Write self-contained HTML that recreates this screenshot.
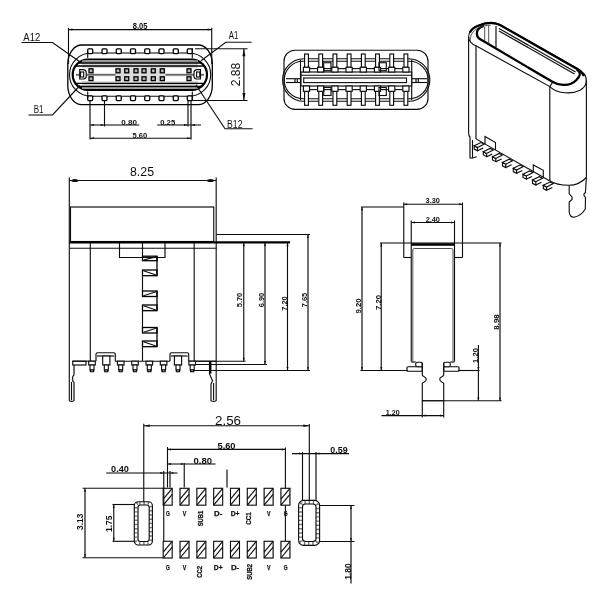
<!DOCTYPE html>
<html><head><meta charset="utf-8"><title>USB Type-C connector drawing</title>
<style>
html,body{margin:0;padding:0;background:#fff;}
body{width:600px;height:600px;overflow:hidden;font-family:"Liberation Sans",sans-serif;}
svg{display:block;}
.l{stroke:#0a0a0a;stroke-width:1.12;fill:none;}
.m{stroke:#000;stroke-width:1.3;}
.fd{fill:#8e8e8e;}
.s{font-weight:bold;}
.s2{stroke:#111;stroke-width:0.35;}
.g{stroke:#3a3a3a;stroke-width:0.9;}
.k{stroke:#000;stroke-width:2.2;fill:none;}
.k2{stroke:#000;stroke-width:2.3;fill:none;}
.nf{stroke:none;}
.w{fill:#fff;}
.fg{fill:#d6d6d6;}
.fg2{fill:#b5b5b5;}
.fg3{fill:#dcdcdc;}
.a{fill:#111;stroke:none;}
.t{font-family:"Liberation Sans",sans-serif;fill:#111;stroke:none;}
.b{font-weight:bold;stroke:#111;stroke-width:0.25;}
.hz{fill:none;stroke:#777;stroke-width:3;stroke-dasharray:1.4 2.8;}
.hz2{fill:none;stroke:#777;stroke-width:3.4;stroke-dasharray:1.4 2.8;}
</style></head><body>
<svg width="600" height="600" viewBox="0 0 600 600">
<defs><filter id="bl" x="0" y="0" width="600" height="600" filterUnits="userSpaceOnUse"><feGaussianBlur stdDeviation="0.38"/></filter></defs>
<rect x="0" y="0" width="600" height="600" fill="#fff"/>
<g filter="url(#bl)">
<g id="v1">
<path class="l m" d="M81.8 45 H198.3 A14 19 0 0 1 212.3 64 V85.6 A14 19 0 0 1 198.3 104.6 H81.8 A14 19 0 0 1 67.8 85.6 V64 A14 19 0 0 1 81.8 45 Z"/>
<rect class="l" x="69.5" y="53" width="141.2" height="43.3" rx="21.65" ry="21.65"/>
<rect class="k w" x="72.7" y="59.5" width="134.3" height="30.3" rx="15.15" ry="15.15"/>
<rect class="nf fg" x="82" y="60.5" width="116" height="7.8"/>
<rect class="nf fg" x="82" y="81" width="116" height="7.8"/>
<rect class="nf fd" x="82" y="60.7" width="116" height="1.8"/>
<rect class="nf fd" x="82" y="86.9" width="116" height="1.8"/>
<rect class="nf w" x="88" y="68.2" width="104" height="13"/>
<line class="l m" x1="78.5" y1="63" x2="201.2" y2="63"/>
<line class="l m" x1="76" y1="66" x2="203.7" y2="66"/>
<line class="l m" x1="76" y1="83.3" x2="203.7" y2="83.3"/>
<line class="l m" x1="78.5" y1="86.3" x2="201.2" y2="86.3"/>
<rect class="nf fg2" x="76" y="73.6" width="128" height="2.6"/>
<line class="l g" x1="76" y1="74.8" x2="204" y2="74.8"/>
<rect class="nf fg3" x="115.5" y="68.2" width="50" height="13"/>
<rect class="l m fg2" x="89" y="68.8" width="4" height="4"/>
<rect class="l m fg2" x="89" y="76.8" width="4" height="3.8"/>
<rect class="l m fg2" x="116" y="68.8" width="4" height="4"/>
<rect class="l m fg2" x="116" y="76.8" width="4" height="3.8"/>
<rect class="l m fg2" x="124.7" y="68.8" width="4" height="4"/>
<rect class="l m fg2" x="124.7" y="76.8" width="4" height="3.8"/>
<rect class="l m fg2" x="134" y="68.8" width="4" height="4"/>
<rect class="l m fg2" x="134" y="76.8" width="4" height="3.8"/>
<rect class="l m fg2" x="142" y="68.8" width="4" height="4"/>
<rect class="l m fg2" x="142" y="76.8" width="4" height="3.8"/>
<rect class="l m fg2" x="151.3" y="68.8" width="4" height="4"/>
<rect class="l m fg2" x="151.3" y="76.8" width="4" height="3.8"/>
<rect class="l m fg2" x="160.3" y="68.8" width="4" height="4"/>
<rect class="l m fg2" x="160.3" y="76.8" width="4" height="3.8"/>
<rect class="l m fg2" x="187" y="68.8" width="4" height="4"/>
<rect class="l m fg2" x="187" y="76.8" width="4" height="3.8"/>
<path class="l w" d="M79.7 69.6 H83.5 Q86.2 70 86.2 72.5 V76.5 Q86.2 78.6 83.5 79 H79.7 Z"/>
<rect class="l" x="80.5" y="72" width="3.2" height="5"/>
<path class="l w" d="M200.5 69.6 H196.7 Q194 70 194 72.5 V76.5 Q194 78.6 196.7 79 H200.5 Z"/>
<rect class="l" x="196.6" y="72" width="3.2" height="5"/>
<rect class="l m w" x="87.7" y="48.8" width="5" height="4.8" rx="1" ry="1"/>
<rect class="l m w" x="87.7" y="95.8" width="5" height="4.8" rx="1" ry="1"/>
<rect class="l m w" x="102" y="48.8" width="5" height="4.8" rx="1" ry="1"/>
<rect class="l m w" x="102" y="95.8" width="5" height="4.8" rx="1" ry="1"/>
<rect class="l m w" x="116.25" y="48.8" width="5" height="4.8" rx="1" ry="1"/>
<rect class="l m w" x="116.25" y="95.8" width="5" height="4.8" rx="1" ry="1"/>
<rect class="l m w" x="130.5" y="48.8" width="5" height="4.8" rx="1" ry="1"/>
<rect class="l m w" x="130.5" y="95.8" width="5" height="4.8" rx="1" ry="1"/>
<rect class="l m w" x="144.75" y="48.8" width="5" height="4.8" rx="1" ry="1"/>
<rect class="l m w" x="144.75" y="95.8" width="5" height="4.8" rx="1" ry="1"/>
<rect class="l m w" x="159" y="48.8" width="5" height="4.8" rx="1" ry="1"/>
<rect class="l m w" x="159" y="95.8" width="5" height="4.8" rx="1" ry="1"/>
<rect class="l m w" x="173.25" y="48.8" width="5" height="4.8" rx="1" ry="1"/>
<rect class="l m w" x="173.25" y="95.8" width="5" height="4.8" rx="1" ry="1"/>
<rect class="l m w" x="187.3" y="48.8" width="5" height="4.8" rx="1" ry="1"/>
<rect class="l m w" x="187.3" y="95.8" width="5" height="4.8" rx="1" ry="1"/>
<line class="l" x1="87.7" y1="51" x2="87.7" y2="58"/>
<line class="l" x1="192.3" y1="48" x2="192.3" y2="58.3"/>
<line class="l" x1="87.7" y1="91.5" x2="87.7" y2="98"/>
<line class="l" x1="192.3" y1="91.5" x2="192.3" y2="101"/>
<line class="l" x1="68.5" y1="29.6" x2="211.7" y2="29.6"/>
<polygon class="a" points="68.5,29.6 72.5,28.6 72.5,30.6"/>
<polygon class="a" points="211.7,29.6 207.7,28.6 207.7,30.6"/>
<line class="l" x1="68.5" y1="27.8" x2="68.5" y2="64"/>
<line class="l" x1="211.7" y1="27.8" x2="211.7" y2="64"/>
<text class="t s" x="140.1" y="29.3" font-size="8.4" text-anchor="middle" textLength="14.7" lengthAdjust="spacingAndGlyphs">8.05</text>
<line class="l" x1="195" y1="48.8" x2="247.5" y2="48.8"/>
<line class="l" x1="192" y1="100.5" x2="247.5" y2="100.5"/>
<line class="l" x1="243.9" y1="48.8" x2="243.9" y2="100.5"/>
<polygon class="a" points="243.9,48.8 242.4,56.3 245.4,56.3"/>
<polygon class="a" points="243.9,100.5 242.4,93 245.4,93"/>
<text class="t s2" x="239.6" y="74.5" font-size="12" text-anchor="middle" textLength="23.5" lengthAdjust="spacingAndGlyphs" transform="rotate(-90 239.6 74.5)">2.88</text>
<path class="l" d="M21.5 42.5 H52.5 L81.5 63"/>
<text class="t s2" x="23.3" y="41.1" font-size="11" text-anchor="start" textLength="17" lengthAdjust="spacingAndGlyphs">A12</text>
<path class="l" d="M28.5 115 H52.5 L80 85.5"/>
<text class="t s2" x="33.7" y="113" font-size="11" text-anchor="start" textLength="9.8" lengthAdjust="spacingAndGlyphs">B1</text>
<path class="l" d="M251.7 42.2 H225.8 L201 60.7"/>
<text class="t s2" x="228.7" y="38.9" font-size="10.2" text-anchor="start" textLength="9.6" lengthAdjust="spacingAndGlyphs">A1</text>
<path class="l" d="M252.5 128.8 H225 L196 85"/>
<text class="t s2" x="227" y="127.7" font-size="10.8" text-anchor="start" textLength="15.5" lengthAdjust="spacingAndGlyphs">B12</text>
<line class="l" x1="90" y1="101" x2="90" y2="139.5"/>
<line class="l" x1="104.5" y1="101" x2="104.5" y2="126.5"/>
<line class="l" x1="188" y1="101" x2="188" y2="126.5"/>
<line class="l" x1="191" y1="101" x2="191" y2="139.5"/>
<line class="l" x1="90" y1="125" x2="139.3" y2="125"/>
<polygon class="a" points="90,125 94,124.1 94,125.9"/>
<polygon class="a" points="104.5,125 100.5,124.1 100.5,125.9"/>
<text class="t s" x="129.1" y="124.6" font-size="8" text-anchor="middle" textLength="15.7" lengthAdjust="spacingAndGlyphs">0.80</text>
<line class="l" x1="157.2" y1="125" x2="201" y2="125"/>
<polygon class="a" points="188,125 184,124.1 184,125.9"/>
<polygon class="a" points="191,125 195,124.1 195,125.9"/>
<text class="t s" x="167.7" y="124.6" font-size="8" text-anchor="middle" textLength="15" lengthAdjust="spacingAndGlyphs">0.25</text>
<line class="l" x1="90" y1="138.2" x2="191" y2="138.2"/>
<polygon class="a" points="90,138.2 94,137.3 94,139.1"/>
<polygon class="a" points="191,138.2 187,137.3 187,139.1"/>
<text class="t s" x="139.8" y="137.7" font-size="8" text-anchor="middle" textLength="14.7" lengthAdjust="spacingAndGlyphs">5.60</text>
</g>
<g id="v2">
<rect class="l" x="284" y="50.2" width="144" height="59.2" rx="11" ry="11"/>
<rect class="l" x="282.6" y="58.7" width="147.2" height="42.6" rx="21.3" ry="21.3"/>
<rect class="l" x="284.2" y="61.3" width="144" height="37.4" rx="18.7" ry="18.7"/>
<line class="l" x1="300.5" y1="60" x2="300.5" y2="100"/>
<line class="l" x1="411.7" y1="60" x2="411.7" y2="100"/>
<rect class="l w" x="301" y="72" width="110.7" height="14"/>
<rect class="l" x="303.7" y="78" width="102.8" height="4.6"/>
<line class="l" x1="301" y1="75.3" x2="412" y2="75.3"/>
<line class="l" x1="286" y1="78.7" x2="301" y2="78.7"/>
<line class="l" x1="286" y1="82.5" x2="301" y2="82.5"/>
<line class="l" x1="295" y1="78.7" x2="295" y2="82.5"/>
<line class="l" x1="297.3" y1="78.7" x2="297.3" y2="82.5"/>
<line class="l" x1="412" y1="78.7" x2="427" y2="78.7"/>
<line class="l" x1="412" y1="82.5" x2="427" y2="82.5"/>
<line class="l" x1="416" y1="78.7" x2="416" y2="82.5"/>
<line class="l" x1="418.3" y1="78.7" x2="418.3" y2="82.5"/>
<line class="l" x1="309.6" y1="68.6" x2="317.6" y2="68.6"/>
<line class="l" x1="309.6" y1="89.6" x2="317.6" y2="89.6"/>
<line class="l" x1="323.8" y1="68.6" x2="331.8" y2="68.6"/>
<line class="l" x1="323.8" y1="89.6" x2="331.8" y2="89.6"/>
<line class="l" x1="338" y1="68.6" x2="346" y2="68.6"/>
<line class="l" x1="338" y1="89.6" x2="346" y2="89.6"/>
<line class="l" x1="352.2" y1="68.6" x2="360.2" y2="68.6"/>
<line class="l" x1="352.2" y1="89.6" x2="360.2" y2="89.6"/>
<line class="l" x1="366.4" y1="68.6" x2="374.4" y2="68.6"/>
<line class="l" x1="366.4" y1="89.6" x2="374.4" y2="89.6"/>
<line class="l" x1="380.6" y1="68.6" x2="388.6" y2="68.6"/>
<line class="l" x1="380.6" y1="89.6" x2="388.6" y2="89.6"/>
<line class="l" x1="394.8" y1="68.6" x2="402.8" y2="68.6"/>
<line class="l" x1="394.8" y1="89.6" x2="402.8" y2="89.6"/>
<rect class="l w" x="304.6" y="54" width="3.8" height="13.3"/>
<rect class="l w" x="303.4" y="67.3" width="6.2" height="4.7"/>
<rect class="l w" x="304.6" y="91.3" width="3.8" height="14"/>
<rect class="l w" x="303.4" y="86" width="6.2" height="5.3"/>
<rect class="l w" x="318.8" y="54" width="3.8" height="13.3"/>
<rect class="l w" x="317.6" y="67.3" width="6.2" height="4.7"/>
<rect class="l w" x="318.8" y="91.3" width="3.8" height="14"/>
<rect class="l w" x="317.6" y="86" width="6.2" height="5.3"/>
<rect class="l w" x="333" y="54" width="3.8" height="13.3"/>
<rect class="l w" x="331.8" y="67.3" width="6.2" height="4.7"/>
<rect class="l w" x="333" y="91.3" width="3.8" height="14"/>
<rect class="l w" x="331.8" y="86" width="6.2" height="5.3"/>
<rect class="l w" x="347.2" y="54" width="3.8" height="13.3"/>
<rect class="l w" x="346" y="67.3" width="6.2" height="4.7"/>
<rect class="l w" x="347.2" y="91.3" width="3.8" height="14"/>
<rect class="l w" x="346" y="86" width="6.2" height="5.3"/>
<rect class="l w" x="361.4" y="54" width="3.8" height="13.3"/>
<rect class="l w" x="360.2" y="67.3" width="6.2" height="4.7"/>
<rect class="l w" x="361.4" y="91.3" width="3.8" height="14"/>
<rect class="l w" x="360.2" y="86" width="6.2" height="5.3"/>
<rect class="l w" x="375.6" y="54" width="3.8" height="13.3"/>
<rect class="l w" x="374.4" y="67.3" width="6.2" height="4.7"/>
<rect class="l w" x="375.6" y="91.3" width="3.8" height="14"/>
<rect class="l w" x="374.4" y="86" width="6.2" height="5.3"/>
<rect class="l w" x="389.8" y="54" width="3.8" height="13.3"/>
<rect class="l w" x="388.6" y="67.3" width="6.2" height="4.7"/>
<rect class="l w" x="389.8" y="91.3" width="3.8" height="14"/>
<rect class="l w" x="388.6" y="86" width="6.2" height="5.3"/>
<rect class="l w" x="404" y="54" width="3.8" height="13.3"/>
<rect class="l w" x="402.8" y="67.3" width="6.2" height="4.7"/>
<rect class="l w" x="404" y="91.3" width="3.8" height="14"/>
<rect class="l w" x="402.8" y="86" width="6.2" height="5.3"/>
<rect class="l" x="323.7" y="62.7" width="7.3" height="8"/>
<rect class="l" x="323.7" y="87.5" width="7.3" height="8"/>
<rect class="l" x="379" y="62.7" width="7.3" height="8"/>
<rect class="l" x="379" y="87.5" width="7.3" height="8"/>
</g>
<g id="v3">
<path class="l" d="M476 45.76 C472 44.5 468.6 41 468.6 37 C468.6 32.5 472 28.3 477.3 25.8 C482 23.7 488 22.3 492 22.5 C495 22.7 497.5 23.5 500 24.50 L577 68.31 C582 71 586.4 75.5 586.4 80.5 C586.4 84.5 584 88 580 90.3 C576 92.4 570 93.2 565 92.8 C559 92.4 554 90.5 549.8 86.59 Z"/>
<path class="k2" d="M469.8 32.6 C471.3 29.5 474 27.4 477.6 26 C482 24.1 488 22.8 492 23 C495 23.2 497.5 24 500 25.00 L576.8 68.70 C580 70.5 582.5 73 584 76"/>
<path class="k2" d="M484 25.8 C481 26.5 478.3 28 477.3 31 C476.5 34 477 37 479.5 38.82 L552 81.52 C555 83.5 558 84.6 563 84.9 C568 85.2 573.5 83 576.7 79.7 C579.5 77 580.5 73.5 579 71.5 C578.3 70.5 577.5 70 576.7 69.6"/>
<path class="l g" d="M470.3 41.5 C469.8 36 472.5 31 478 28.2 C482 26.2 487 25 491 25.2"/>
<line class="l" x1="499" y1="28.43" x2="575.5" y2="71.96"/>
<line class="l" x1="499" y1="30.93" x2="574.5" y2="73.89"/>
<line class="l g" x1="484.7" y1="27" x2="484.7" y2="40.88"/>
<line class="l g" x1="488.7" y1="25.5" x2="488.7" y2="43.23"/>
<line class="l" x1="496" y1="26" x2="496" y2="47.53"/>
<line class="l" x1="468.6" y1="37" x2="468.6" y2="133"/>
<line class="l" x1="476" y1="45.76" x2="476" y2="139"/>
<line class="l" x1="549.8" y1="86.59" x2="549.8" y2="180.8"/>
<line class="l" x1="586.4" y1="80" x2="586.4" y2="177.5"/>
<line class="l" x1="549.8" y1="86.59" x2="552.5" y2="82.5"/>
<path class="l" d="M549.8 180.8 C553 183 560 185.3 569.2 185.3 C577 185.3 583 181 586.4 177.5"/>
<path class="l" d="M569.2 185.3 V193.8 L572 197 V199.5 L569.2 202 V212 C569.4 215.5 571.5 217.4 574 217.2 C578.5 216.3 583 213 585.3 209 L585.5 197.5 L584 195.5 V194 L585.4 192.5 L586.4 177.5"/>
<line class="l" x1="476" y1="138.87" x2="549.8" y2="180.94"/>
<path class="l" d="M485 144 L485 136.5 L495.5 142.5 L495.5 149.99"/>
<path class="l" d="M533.3 171.53 L533.3 165 L543.3 170.3 L543.3 177.23"/>
<path class="l w" d="M474.2 145.8 L477.5 147.5 L477.5 150.8 L474.2 149.1 Z"/>
<path class="l w" d="M474.2 145.8 L480.9 142.5 L484.2 144.1 L477.5 147.5 Z"/>
<path class="l" d="M477.5 150.8 L483.2 148"/>
<path class="l w" d="M483.3 151.7 L486.6 153.4 L486.6 156.7 L483.3 155 Z"/>
<path class="l w" d="M483.3 151.7 L490 148.4 L493.3 150 L486.6 153.4 Z"/>
<path class="l" d="M486.6 156.7 L492.3 153.9"/>
<path class="l w" d="M492.5 156.7 L495.8 158.4 L495.8 161.7 L492.5 160 Z"/>
<path class="l w" d="M492.5 156.7 L499.2 153.4 L502.5 155 L495.8 158.4 Z"/>
<path class="l" d="M495.8 161.7 L501.5 158.9"/>
<path class="l w" d="M502.5 162.5 L505.8 164.2 L505.8 167.5 L502.5 165.8 Z"/>
<path class="l w" d="M502.5 162.5 L509.2 159.2 L512.5 160.8 L505.8 164.2 Z"/>
<path class="l" d="M505.8 167.5 L511.5 164.7"/>
<path class="l w" d="M513.3 168.3 L516.6 170 L516.6 173.3 L513.3 171.6 Z"/>
<path class="l w" d="M513.3 168.3 L520 165 L523.3 166.6 L516.6 170 Z"/>
<path class="l" d="M516.6 173.3 L522.3 170.5"/>
<path class="l w" d="M523 174.2 L526.3 175.9 L526.3 179.2 L523 177.5 Z"/>
<path class="l w" d="M523 174.2 L529.7 170.9 L533 172.5 L526.3 175.9 Z"/>
<path class="l" d="M526.3 179.2 L532 176.4"/>
<path class="l w" d="M532.5 180 L535.8 181.7 L535.8 185 L532.5 183.3 Z"/>
<path class="l w" d="M532.5 180 L539.2 176.7 L542.5 178.3 L535.8 181.7 Z"/>
<path class="l" d="M535.8 185 L541.5 182.2"/>
<path class="l w" d="M543.3 185.3 L546.6 187 L546.6 190.3 L543.3 188.6 Z"/>
<path class="l w" d="M543.3 185.3 L550 182 L553.3 183.6 L546.6 187 Z"/>
<path class="l" d="M546.6 190.3 L552.3 187.5"/>
<path class="l" d="M468.6 133 C468.6 135 469 136 470 137 V158 H472.5 L476.7 156.7"/>
<line class="l" x1="472.5" y1="140" x2="472.5" y2="158"/>
</g>
<g id="v4">
<line class="l" x1="69.3" y1="180.5" x2="216.2" y2="180.5"/>
<ellipse class="a" cx="74.9" cy="180.5" rx="3.4" ry="1.6"/>
<ellipse class="a" cx="210.5" cy="180.5" rx="3.4" ry="1.6"/>
<text class="t s2" x="142" y="176.4" font-size="12" text-anchor="middle" textLength="24" lengthAdjust="spacingAndGlyphs">8.25</text>
<line class="l" x1="69.3" y1="177.5" x2="69.3" y2="361"/>
<line class="l" x1="216.2" y1="177.5" x2="216.2" y2="361"/>
<rect class="l" x="70.5" y="207" width="143.25" height="34.5"/>
<line class="k" x1="69.5" y1="242.3" x2="290" y2="242.3"/>
<line class="l" x1="90.3" y1="243" x2="90.3" y2="361.2"/>
<line class="l" x1="194.2" y1="243" x2="194.2" y2="361.2"/>
<path class="l" d="M119.5 243 V257.5 H165 V243"/>
<line class="l" x1="69.5" y1="248.3" x2="216.25" y2="248.3"/>
<rect class="l m" x="142.5" y="256.2" width="14.5" height="4.5"/>
<rect class="l m" x="142.5" y="270" width="14.5" height="5.7"/>
<line class="l m" x1="157" y1="256.2" x2="157" y2="275.7"/>
<line class="l" x1="143.5" y1="260" x2="156" y2="256.9"/>
<line class="l" x1="143.5" y1="270.7" x2="156" y2="275"/>
<rect class="l m" x="142.5" y="291" width="14.5" height="5.5"/>
<rect class="l m" x="142.5" y="305" width="14.5" height="5.7"/>
<line class="l m" x1="157" y1="291" x2="157" y2="310.7"/>
<line class="l" x1="143.5" y1="295.8" x2="156" y2="291.7"/>
<line class="l" x1="143.5" y1="305.7" x2="156" y2="310"/>
<rect class="l m" x="142.5" y="327.5" width="14.5" height="5.5"/>
<rect class="l m" x="142.5" y="341" width="14.5" height="5.7"/>
<line class="l m" x1="157" y1="327.5" x2="157" y2="346.7"/>
<line class="l" x1="143.5" y1="332.3" x2="156" y2="328.2"/>
<line class="l" x1="143.5" y1="341.7" x2="156" y2="346"/>
<line class="l" x1="142.5" y1="243" x2="142.5" y2="256.2"/>
<line class="l" x1="142.5" y1="275.7" x2="142.5" y2="291"/>
<line class="l" x1="142.5" y1="310.7" x2="142.5" y2="327.5"/>
<line class="l" x1="142.5" y1="346.7" x2="142.5" y2="361"/>
<line class="l" x1="72.7" y1="361.2" x2="96" y2="361.2"/>
<line class="l" x1="115.3" y1="361.2" x2="170" y2="361.2"/>
<line class="l" x1="188.7" y1="361.2" x2="216" y2="361.2"/>
<rect class="l" x="72.7" y="361.2" width="13.3" height="3.8"/>
<path class="l" d="M96 361.2 V354.2 Q96 352.7 97.6 352.7 H113.7 Q115.3 352.7 115.3 354.2 V361.2"/>
<line class="l" x1="97" y1="356" x2="114.3" y2="356"/>
<path class="l" d="M170 361.2 V354.2 Q170 352.7 171.6 352.7 H187.1 Q188.7 352.7 188.7 354.2 V361.2"/>
<line class="l" x1="171" y1="356" x2="187.7" y2="356"/>
<rect class="l w" x="88.7" y="361.2" width="6.6" height="3.8"/>
<rect class="l w" x="90" y="365" width="4" height="5"/>
<rect class="l w" x="90.4" y="370" width="3.2" height="1.7"/>
<rect class="l w" x="102.7" y="356" width="7.2" height="9"/>
<rect class="l w" x="104.3" y="365" width="4" height="5"/>
<rect class="l w" x="104.7" y="370" width="3.2" height="1.7"/>
<rect class="l w" x="117.4" y="361.2" width="6.6" height="3.8"/>
<rect class="l w" x="118.7" y="365" width="4" height="5"/>
<rect class="l w" x="119.1" y="370" width="3.2" height="1.7"/>
<rect class="l w" x="131.7" y="361.2" width="6.6" height="3.8"/>
<rect class="l w" x="133" y="365" width="4" height="5"/>
<rect class="l w" x="133.4" y="370" width="3.2" height="1.7"/>
<rect class="l w" x="146" y="361.2" width="6.6" height="3.8"/>
<rect class="l w" x="147.3" y="365" width="4" height="5"/>
<rect class="l w" x="147.7" y="370" width="3.2" height="1.7"/>
<rect class="l w" x="160.3" y="361.2" width="6.6" height="3.8"/>
<rect class="l w" x="161.6" y="365" width="4" height="5"/>
<rect class="l w" x="162" y="370" width="3.2" height="1.7"/>
<rect class="l w" x="174.4" y="356" width="7.2" height="9"/>
<rect class="l w" x="176" y="365" width="4" height="5"/>
<rect class="l w" x="176.4" y="370" width="3.2" height="1.7"/>
<rect class="l w" x="188.9" y="361.2" width="6.6" height="3.8"/>
<rect class="l w" x="190.2" y="365" width="4" height="5"/>
<rect class="l w" x="190.6" y="370" width="3.2" height="1.7"/>
<path class="l" d="M69.3 361 V400.6 Q71.6 402.4 74 400.6 V382.5 L72.7 381 V376.5 L74 375 V365"/>
<line class="l" x1="71.5" y1="382" x2="71.5" y2="400.3"/>
<path class="l" d="M216.2 361 V400.6 Q213.6 402.4 211 400.6 V384 L212.6 381 L209.5 374 V361.3"/>
<line class="l" x1="213.6" y1="383" x2="213.6" y2="400.3"/>
<line class="k2" x1="210.3" y1="361.5" x2="210.3" y2="373.5"/>
<line class="l" x1="216.25" y1="234.5" x2="310" y2="234.5"/>
<line class="l" x1="243.75" y1="242.8" x2="243.75" y2="361.25"/>
<polygon class="a" points="243.75,242.8 242.75,246.3 244.75,246.3"/>
<polygon class="a" points="243.75,361.25 242.75,357.75 244.75,357.75"/>
<line class="l" x1="265" y1="242.8" x2="265" y2="364.5"/>
<polygon class="a" points="265,242.8 264,246.3 266,246.3"/>
<polygon class="a" points="265,364.5 264,361 266,361"/>
<line class="l" x1="287.5" y1="242.8" x2="287.5" y2="370.5"/>
<polygon class="a" points="287.5,242.8 286.5,246.3 288.5,246.3"/>
<polygon class="a" points="287.5,370.5 286.5,367 288.5,367"/>
<line class="l" x1="308" y1="234.5" x2="308" y2="370.5"/>
<polygon class="a" points="308,234.5 307,238 309,238"/>
<polygon class="a" points="308,370.5 307,367 309,367"/>
<line class="l" x1="195" y1="361.25" x2="245.5" y2="361.25"/>
<line class="l" x1="195" y1="364.5" x2="267" y2="364.5"/>
<line class="l" x1="193.75" y1="370.5" x2="310" y2="370.5"/>
<text class="t s" x="242.3" y="300" font-size="7.6" text-anchor="middle" textLength="14.5" lengthAdjust="spacingAndGlyphs" transform="rotate(-90 242.3 300)">5.70</text>
<text class="t s" x="263.5" y="300" font-size="7.6" text-anchor="middle" textLength="14.5" lengthAdjust="spacingAndGlyphs" transform="rotate(-90 263.5 300)">6.90</text>
<text class="t s" x="286.6" y="303.5" font-size="7.6" text-anchor="middle" textLength="14.5" lengthAdjust="spacingAndGlyphs" transform="rotate(-90 286.6 303.5)">7.20</text>
<text class="t s" x="306.8" y="300" font-size="7.6" text-anchor="middle" textLength="14.5" lengthAdjust="spacingAndGlyphs" transform="rotate(-90 306.8 300)">7.65</text>
</g>
<g id="v5">
<line class="l" x1="403.75" y1="204.25" x2="462.5" y2="204.25"/>
<polygon class="a" points="403.75,204.25 407.25,203.25 407.25,205.25"/>
<polygon class="a" points="462.5,204.25 459,203.25 459,205.25"/>
<text class="t s" x="432.7" y="203.2" font-size="7.3" text-anchor="middle" textLength="14.3" lengthAdjust="spacingAndGlyphs">3.30</text>
<line class="l" x1="403.75" y1="202.5" x2="403.75" y2="257.5"/>
<line class="l" x1="462.5" y1="202.5" x2="462.5" y2="257.5"/>
<line class="l" x1="361" y1="207" x2="403.75" y2="207"/>
<line class="l" x1="362" y1="207" x2="362" y2="370.5"/>
<polygon class="a" points="362,207 361,210.5 363,210.5"/>
<polygon class="a" points="362,370.5 361,367 363,367"/>
<text class="t s" x="361" y="306" font-size="7.4" text-anchor="middle" textLength="15" lengthAdjust="spacingAndGlyphs" transform="rotate(-90 361 306)">9.20</text>
<line class="l" x1="411.25" y1="222.5" x2="454.5" y2="222.5"/>
<polygon class="a" points="411.25,222.5 414.75,221.5 414.75,223.5"/>
<polygon class="a" points="454.5,222.5 451,221.5 451,223.5"/>
<text class="t s" x="432.8" y="221.6" font-size="7.3" text-anchor="middle" textLength="14.3" lengthAdjust="spacingAndGlyphs">2.40</text>
<line class="l" x1="380" y1="243" x2="501.5" y2="243"/>
<line class="l" x1="381.25" y1="243" x2="381.25" y2="370.5"/>
<polygon class="a" points="381.25,243 380.25,246.5 382.25,246.5"/>
<polygon class="a" points="381.25,370.5 380.25,367 382.25,367"/>
<text class="t s" x="380.5" y="302.5" font-size="7.4" text-anchor="middle" textLength="15" lengthAdjust="spacingAndGlyphs" transform="rotate(-90 380.5 302.5)">7.20</text>
<line class="l" x1="403.75" y1="257.5" x2="411.25" y2="257.5"/>
<line class="l" x1="454.5" y1="257.5" x2="462.5" y2="257.5"/>
<line class="l" x1="411.25" y1="220.5" x2="411.25" y2="361.5"/>
<line class="l" x1="454.5" y1="220.5" x2="454.5" y2="361.5"/>
<path class="l g" d="M412.8 361.5 V250 Q412.8 248.5 414.3 248.5 H451.5 Q453 248.5 453 250 V361.5"/>
<line class="k2" x1="411.5" y1="244.5" x2="454.5" y2="244.5"/>
<rect class="l w" x="407" y="366.7" width="15.3" height="4.6" rx="1" ry="1"/>
<rect class="l w" x="415.7" y="362.3" width="6.6" height="4.4" rx="1.8" ry="1.8"/>
<rect class="l w" x="443.7" y="366.7" width="15.3" height="4.6" rx="1" ry="1"/>
<rect class="l w" x="443.7" y="362.3" width="6.6" height="4.4" rx="1.8" ry="1.8"/>
<line class="l" x1="411.25" y1="362" x2="415.7" y2="362"/>
<line class="l" x1="450.3" y1="362" x2="454.5" y2="362"/>
<line class="l" x1="360.5" y1="370.5" x2="408" y2="370.5"/>
<line class="l" x1="458" y1="370.5" x2="479.5" y2="370.5"/>
<path class="l" d="M422.3 362.7 V375.3 C423 376.6 426.3 376.6 426.3 379.3 C426.3 382 423 382 422.3 383.3 V400.7 H443.7 V383.3 C443 382 439.7 382 439.7 379.3 C439.7 376.6 443 376.6 443.7 375.3 V362.7"/>
<line class="l" x1="422.3" y1="400.7" x2="422.3" y2="417.5"/>
<line class="l" x1="443.7" y1="400.7" x2="443.7" y2="417.5"/>
<line class="l" x1="381.5" y1="415.6" x2="443.7" y2="415.6"/>
<polygon class="a" points="422.3,415.6 425.8,414.6 425.8,416.6"/>
<polygon class="a" points="443.7,415.6 440.2,414.6 440.2,416.6"/>
<text class="t s" x="392.7" y="414.6" font-size="7.3" text-anchor="middle" textLength="13.8" lengthAdjust="spacingAndGlyphs">1.20</text>
<line class="l" x1="478.4" y1="345" x2="478.4" y2="400.5"/>
<polygon class="a" points="478.4,370.5 477.4,367 479.4,367"/>
<polygon class="a" points="478.4,401 477.4,397.5 479.4,397.5"/>
<text class="t s" x="477.8" y="355.5" font-size="7.3" text-anchor="middle" textLength="14.8" lengthAdjust="spacingAndGlyphs" transform="rotate(-90 477.8 355.5)">1.20</text>
<line class="l" x1="422.3" y1="400.7" x2="501.5" y2="400.7"/>
<line class="l" x1="500" y1="243" x2="500" y2="401"/>
<polygon class="a" points="500,243 499,246.5 501,246.5"/>
<polygon class="a" points="500,401 499,397.5 501,397.5"/>
<text class="t s" x="499.2" y="322" font-size="7.4" text-anchor="middle" textLength="15.5" lengthAdjust="spacingAndGlyphs" transform="rotate(-90 499.2 322)">8.98</text>
</g>
<g id="v6">
<line class="l" x1="143.75" y1="425.8" x2="309.3" y2="425.8"/>
<polygon class="a" points="143.75,425.8 149.75,424.6 149.75,427"/>
<polygon class="a" points="309.3,425.8 303.3,424.6 303.3,427"/>
<text class="t s2" x="228" y="425" font-size="12.6" text-anchor="middle" textLength="26" lengthAdjust="spacingAndGlyphs">2.56</text>
<line class="l" x1="143.75" y1="423.75" x2="143.75" y2="502"/>
<line class="l" x1="309.3" y1="424" x2="309.3" y2="501"/>
<line class="l" x1="167.5" y1="449.4" x2="285.4" y2="449.4"/>
<polygon class="a" points="167.5,449.4 171,448.4 171,450.4"/>
<polygon class="a" points="285.4,449.4 281.9,448.4 281.9,450.4"/>
<text class="t s" x="226.5" y="448.9" font-size="8.2" text-anchor="middle" textLength="18" lengthAdjust="spacingAndGlyphs">5.60</text>
<line class="l" x1="167.5" y1="447" x2="167.5" y2="487.5"/>
<line class="l" x1="285.4" y1="447.5" x2="285.4" y2="488.4"/>
<line class="l" x1="285.4" y1="505.5" x2="285.4" y2="541"/>
<line class="l" x1="167.5" y1="464" x2="215.5" y2="464"/>
<polygon class="a" points="167.5,464 171,463 171,465"/>
<polygon class="a" points="184.25,464 180.75,463 180.75,465"/>
<line class="l" x1="184.25" y1="463" x2="184.25" y2="487.5"/>
<text class="t s" x="202.8" y="463.5" font-size="8.2" text-anchor="middle" textLength="18.5" lengthAdjust="spacingAndGlyphs">0.80</text>
<line class="l" x1="227" y1="469.5" x2="227" y2="487.5"/>
<line class="l" x1="106.25" y1="473" x2="177.5" y2="473"/>
<polygon class="a" points="163.75,473 160.25,472 160.25,474"/>
<polygon class="a" points="170,473 173.5,472 173.5,474"/>
<line class="l" x1="163.75" y1="471" x2="163.75" y2="541.3"/>
<line class="l" x1="170" y1="471" x2="170" y2="487.5"/>
<text class="t s" x="120" y="472" font-size="8.2" text-anchor="middle" textLength="17.8" lengthAdjust="spacingAndGlyphs">0.40</text>
<line class="l" x1="82.5" y1="488.3" x2="163.75" y2="488.3"/>
<line class="l" x1="82.5" y1="557.7" x2="163.75" y2="557.7"/>
<line class="l" x1="85" y1="488.3" x2="85" y2="557.7"/>
<polygon class="a" points="85,488.3 84,491.8 86,491.8"/>
<polygon class="a" points="85,557.7 84,554.2 86,554.2"/>
<text class="t s" x="83" y="521.8" font-size="8.4" text-anchor="middle" textLength="16.3" lengthAdjust="spacingAndGlyphs" transform="rotate(-90 83 521.8)">3.13</text>
<line class="l" x1="112.5" y1="504.5" x2="135" y2="504.5"/>
<line class="l" x1="112.5" y1="541.3" x2="135" y2="541.3"/>
<line class="l" x1="113.75" y1="504.5" x2="113.75" y2="541.3"/>
<polygon class="a" points="113.75,504.5 112.75,508 114.75,508"/>
<polygon class="a" points="113.75,541.3 112.75,537.8 114.75,537.8"/>
<text class="t s" x="112.4" y="523.8" font-size="8.4" text-anchor="middle" textLength="16.5" lengthAdjust="spacingAndGlyphs" transform="rotate(-90 112.4 523.8)">1.75</text>
<rect class="hz" x="136" y="503.3" width="14.7" height="40" rx="3.2" ry="3.2"/>
<rect class="l" x="134.3" y="501.7" width="18.1" height="43.3" rx="4" ry="4"/>
<rect class="l" x="138" y="505" width="11.2" height="36.5" rx="2.5" ry="2.5"/>
<rect class="hz2" x="300.6" y="502.4" width="17" height="41" rx="3.8" ry="3.8"/>
<rect class="l" x="298.6" y="500.4" width="21" height="45" rx="5" ry="5"/>
<rect class="l" x="302.5" y="504" width="13.5" height="37.5" rx="3" ry="3"/>
<rect class="l" x="163.2" y="488.3" width="9" height="16.9"/>
<line class="l" x1="163.2" y1="499.1" x2="172.2" y2="488.3"/>
<line class="l" x1="163.2" y1="505.2" x2="172.2" y2="494.4"/>
<rect class="l" x="163.2" y="541.3" width="9" height="16.7"/>
<line class="l" x1="163.2" y1="552.1" x2="172.2" y2="541.3"/>
<line class="l" x1="163.2" y1="558" x2="172.2" y2="547.2"/>
<text class="t b" x="167.8" y="515.6" font-size="7.4" text-anchor="middle" textLength="3.8" lengthAdjust="spacingAndGlyphs">G</text>
<text class="t b" x="167.8" y="569.6" font-size="7.4" text-anchor="middle" textLength="3.8" lengthAdjust="spacingAndGlyphs">G</text>
<rect class="l" x="180.02" y="488.3" width="9" height="16.9"/>
<line class="l" x1="180.02" y1="499.1" x2="189.02" y2="488.3"/>
<line class="l" x1="180.02" y1="505.2" x2="189.02" y2="494.4"/>
<rect class="l" x="180.02" y="541.3" width="9" height="16.7"/>
<line class="l" x1="180.02" y1="552.1" x2="189.02" y2="541.3"/>
<line class="l" x1="180.02" y1="558" x2="189.02" y2="547.2"/>
<text class="t b" x="184.62" y="515.6" font-size="7.4" text-anchor="middle" textLength="3.5" lengthAdjust="spacingAndGlyphs">V</text>
<text class="t b" x="184.62" y="569.6" font-size="7.4" text-anchor="middle" textLength="3.5" lengthAdjust="spacingAndGlyphs">V</text>
<rect class="l" x="196.84" y="488.3" width="9" height="16.9"/>
<line class="l" x1="196.84" y1="499.1" x2="205.84" y2="488.3"/>
<line class="l" x1="196.84" y1="505.2" x2="205.84" y2="494.4"/>
<rect class="l" x="196.84" y="541.3" width="9" height="16.7"/>
<line class="l" x1="196.84" y1="552.1" x2="205.84" y2="541.3"/>
<line class="l" x1="196.84" y1="558" x2="205.84" y2="547.2"/>
<text class="t b" x="203.04" y="518.5" font-size="7.4" text-anchor="middle" textLength="15.5" lengthAdjust="spacingAndGlyphs" transform="rotate(-90 203.04 518.5)">SUB1</text>
<text class="t b" x="201.64" y="571.8" font-size="7.4" text-anchor="middle" textLength="12" lengthAdjust="spacingAndGlyphs" transform="rotate(-90 201.64 571.8)">CC2</text>
<rect class="l" x="213.66" y="488.3" width="9" height="16.9"/>
<line class="l" x1="213.66" y1="499.1" x2="222.66" y2="488.3"/>
<line class="l" x1="213.66" y1="505.2" x2="222.66" y2="494.4"/>
<rect class="l" x="213.66" y="541.3" width="9" height="16.7"/>
<line class="l" x1="213.66" y1="552.1" x2="222.66" y2="541.3"/>
<line class="l" x1="213.66" y1="558" x2="222.66" y2="547.2"/>
<text class="t b" x="218.26" y="515.6" font-size="7.4" text-anchor="middle" textLength="8.3" lengthAdjust="spacingAndGlyphs">D-</text>
<text class="t b" x="218.26" y="569.6" font-size="7.4" text-anchor="middle" textLength="8.8" lengthAdjust="spacingAndGlyphs">D+</text>
<rect class="l" x="230.48" y="488.3" width="9" height="16.9"/>
<line class="l" x1="230.48" y1="499.1" x2="239.48" y2="488.3"/>
<line class="l" x1="230.48" y1="505.2" x2="239.48" y2="494.4"/>
<rect class="l" x="230.48" y="541.3" width="9" height="16.7"/>
<line class="l" x1="230.48" y1="552.1" x2="239.48" y2="541.3"/>
<line class="l" x1="230.48" y1="558" x2="239.48" y2="547.2"/>
<text class="t b" x="235.08" y="515.6" font-size="7.4" text-anchor="middle" textLength="8.8" lengthAdjust="spacingAndGlyphs">D+</text>
<text class="t b" x="235.08" y="569.6" font-size="7.4" text-anchor="middle" textLength="8.3" lengthAdjust="spacingAndGlyphs">D-</text>
<rect class="l" x="247.3" y="488.3" width="9" height="16.9"/>
<line class="l" x1="247.3" y1="499.1" x2="256.3" y2="488.3"/>
<line class="l" x1="247.3" y1="505.2" x2="256.3" y2="494.4"/>
<rect class="l" x="247.3" y="541.3" width="9" height="16.7"/>
<line class="l" x1="247.3" y1="552.1" x2="256.3" y2="541.3"/>
<line class="l" x1="247.3" y1="558" x2="256.3" y2="547.2"/>
<text class="t b" x="250.5" y="518.5" font-size="7.4" text-anchor="middle" textLength="12.5" lengthAdjust="spacingAndGlyphs" transform="rotate(-90 250.5 518.5)">CC1</text>
<text class="t b" x="252.5" y="571.8" font-size="7.4" text-anchor="middle" textLength="16" lengthAdjust="spacingAndGlyphs" transform="rotate(-90 252.5 571.8)">SUB2</text>
<rect class="l" x="264.12" y="488.3" width="9" height="16.9"/>
<line class="l" x1="264.12" y1="499.1" x2="273.12" y2="488.3"/>
<line class="l" x1="264.12" y1="505.2" x2="273.12" y2="494.4"/>
<rect class="l" x="264.12" y="541.3" width="9" height="16.7"/>
<line class="l" x1="264.12" y1="552.1" x2="273.12" y2="541.3"/>
<line class="l" x1="264.12" y1="558" x2="273.12" y2="547.2"/>
<text class="t b" x="268.72" y="515.6" font-size="7.4" text-anchor="middle" textLength="3.5" lengthAdjust="spacingAndGlyphs">V</text>
<text class="t b" x="268.72" y="569.6" font-size="7.4" text-anchor="middle" textLength="3.5" lengthAdjust="spacingAndGlyphs">V</text>
<rect class="l" x="280.94" y="488.3" width="9" height="16.9"/>
<line class="l" x1="280.94" y1="499.1" x2="289.94" y2="488.3"/>
<line class="l" x1="280.94" y1="505.2" x2="289.94" y2="494.4"/>
<rect class="l" x="280.94" y="541.3" width="9" height="16.7"/>
<line class="l" x1="280.94" y1="552.1" x2="289.94" y2="541.3"/>
<line class="l" x1="280.94" y1="558" x2="289.94" y2="547.2"/>
<text class="t b" x="285.54" y="515.6" font-size="7.4" text-anchor="middle" textLength="3.8" lengthAdjust="spacingAndGlyphs">G</text>
<text class="t b" x="285.54" y="569.6" font-size="7.4" text-anchor="middle" textLength="3.8" lengthAdjust="spacingAndGlyphs">G</text>
<line class="l" x1="292" y1="453.6" x2="349" y2="453.6"/>
<polygon class="a" points="302.5,453.6 299,452.6 299,454.6"/>
<polygon class="a" points="316,453.6 319.5,452.6 319.5,454.6"/>
<line class="l" x1="302.5" y1="452" x2="302.5" y2="501"/>
<line class="l" x1="316" y1="452" x2="316" y2="501"/>
<text class="t s" x="339" y="452.6" font-size="8.2" text-anchor="middle" textLength="17.3" lengthAdjust="spacingAndGlyphs">0.59</text>
<line class="l" x1="319.6" y1="505.5" x2="354.4" y2="505.5"/>
<line class="l" x1="319.6" y1="541.5" x2="354.4" y2="541.5"/>
<line class="l" x1="351" y1="505.5" x2="351" y2="583.5"/>
<polygon class="a" points="351,505.5 350,509 352,509"/>
<polygon class="a" points="351,541.5 350,538 352,538"/>
<text class="t s" x="350.6" y="571.6" font-size="8.4" text-anchor="middle" textLength="16.5" lengthAdjust="spacingAndGlyphs" transform="rotate(-90 350.6 571.6)">1.80</text>
</g>
</g>
</svg>
</body></html>
